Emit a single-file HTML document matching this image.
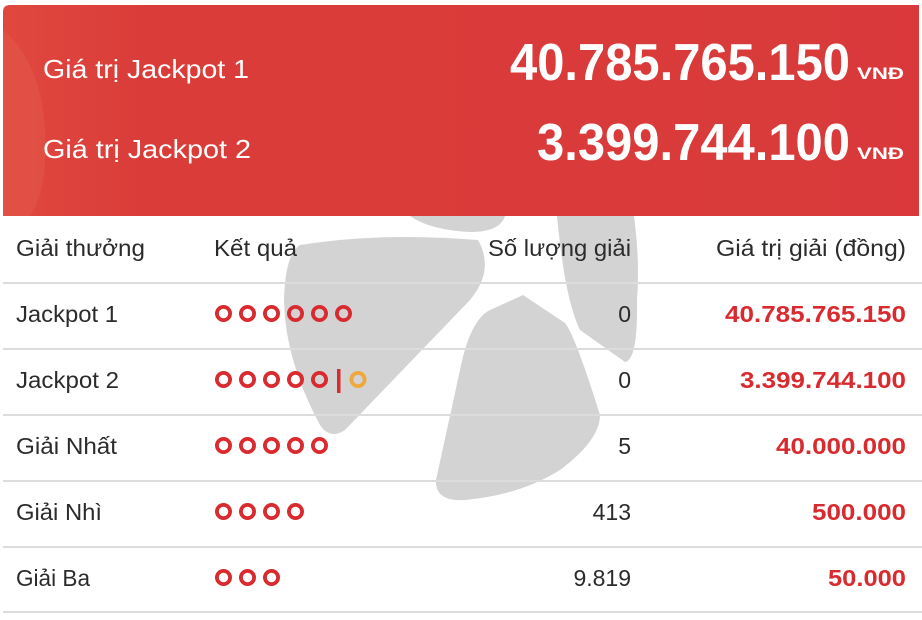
<!DOCTYPE html>
<html><head><meta charset="utf-8"><style>
html,body{margin:0;padding:0;background:#fff;width:922px;height:620px;overflow:hidden}
svg{display:block}
text{font-family:"Liberation Sans",sans-serif}
</style></head><body>
<svg width="922" height="620" viewBox="0 0 922 620">
<defs>
<linearGradient id="g" x1="0" y1="0" x2="1" y2="0">
<stop offset="0" stop-color="#e0483f"/><stop offset="0.15" stop-color="#da3d39"/><stop offset="1" stop-color="#d9393a"/>
</linearGradient>
</defs>
<path d="M3 12 Q3 5 10 5 L919 5 L919 216 L3 216 Z" fill="url(#g)"/>
<path d="M3 30 Q40 60 45 130 Q48 190 30 216 L3 216 Z" fill="#e2564a" opacity="0.6"/>
<g fill="#d3d3d3">
<path d="M300 245 Q380 232 478 240 Q495 270 470 300 L345 430 Q330 440 320 425 Q285 360 284 300 Q285 255 300 245 Z"/>
<path d="M410 216 L505 216 Q500 232 470 232 Q430 230 410 216 Z"/>
<path d="M557 216 L634 216 Q640 260 637 300 Q638 360 625 362 L580 330 Q565 300 557 216 Z"/>
<path d="M523 295 L565 323 Q575 335 600 415 Q600 440 560 470 Q520 495 465 500 Q435 502 436 480 L460 370 Q470 320 490 310 Z"/>
</g>
<g fill="#fff">
<text x="43" y="78" font-size="26" textLength="206" lengthAdjust="spacingAndGlyphs">Giá trị Jackpot 1</text>
<text x="43" y="158" font-size="26" textLength="208" lengthAdjust="spacingAndGlyphs">Giá trị Jackpot 2</text>
<text x="510" y="80" font-size="52" font-weight="bold" textLength="340" lengthAdjust="spacingAndGlyphs">40.785.765.150</text>
<text x="537" y="160" font-size="52" font-weight="bold" textLength="313" lengthAdjust="spacingAndGlyphs">3.399.744.100</text>
<text x="857" y="79" font-size="17" font-weight="bold" textLength="47" lengthAdjust="spacingAndGlyphs">VNĐ</text>
<text x="857" y="159" font-size="17" font-weight="bold" textLength="47" lengthAdjust="spacingAndGlyphs">VNĐ</text>
</g>
<g stroke="#dcdcdc" stroke-width="2">
<line x1="3" y1="283" x2="922" y2="283"/><line x1="3" y1="349" x2="922" y2="349"/>
<line x1="3" y1="415" x2="922" y2="415"/><line x1="3" y1="481" x2="922" y2="481"/>
<line x1="3" y1="547" x2="922" y2="547"/><line x1="3" y1="612" x2="922" y2="612"/>
</g>
<g fill="#2b2b2b" font-size="23">
<text x="16" y="256" textLength="129" lengthAdjust="spacingAndGlyphs">Giải thưởng</text>
<text x="214" y="256" textLength="83" lengthAdjust="spacingAndGlyphs">Kết quả</text>
<text x="488" y="256" textLength="143" lengthAdjust="spacingAndGlyphs">Số lượng giải</text>
<text x="716" y="256" textLength="190" lengthAdjust="spacingAndGlyphs">Giá trị giải (đồng)</text>
<text x="16" y="322" textLength="102" lengthAdjust="spacingAndGlyphs">Jackpot 1</text>
<text x="16" y="388" textLength="103" lengthAdjust="spacingAndGlyphs">Jackpot 2</text>
<text x="16" y="454" textLength="101" lengthAdjust="spacingAndGlyphs">Giải Nhất</text>
<text x="16" y="520" textLength="86" lengthAdjust="spacingAndGlyphs">Giải Nhì</text>
<text x="16" y="586" textLength="74" lengthAdjust="spacingAndGlyphs">Giải Ba</text>
<text x="631" y="322" text-anchor="end">0</text>
<text x="631" y="388" text-anchor="end">0</text>
<text x="631" y="454" text-anchor="end">5</text>
<text x="631" y="520" text-anchor="end">413</text>
<text x="631" y="586" text-anchor="end">9.819</text>
</g>
<g fill="none" stroke="#d92b2f" stroke-width="3.8">
<g transform="translate(0,0)">
<ellipse cx="223.5" cy="313.5" rx="6.6" ry="6.6"/><ellipse cx="247.5" cy="313.5" rx="6.6" ry="6.6"/><ellipse cx="271.5" cy="313.5" rx="6.6" ry="6.6"/><ellipse cx="295.5" cy="313.5" rx="6.6" ry="6.6"/><ellipse cx="319.5" cy="313.5" rx="6.6" ry="6.6"/><ellipse cx="343.5" cy="313.5" rx="6.6" ry="6.6"/>
</g>
<g transform="translate(0,66)">
<ellipse cx="223.5" cy="313.5" rx="6.6" ry="6.6"/><ellipse cx="247.5" cy="313.5" rx="6.6" ry="6.6"/><ellipse cx="271.5" cy="313.5" rx="6.6" ry="6.6"/><ellipse cx="295.5" cy="313.5" rx="6.6" ry="6.6"/><ellipse cx="319.5" cy="313.5" rx="6.6" ry="6.6"/>
</g>
<g transform="translate(0,132)">
<ellipse cx="223.5" cy="313.5" rx="6.6" ry="6.6"/><ellipse cx="247.5" cy="313.5" rx="6.6" ry="6.6"/><ellipse cx="271.5" cy="313.5" rx="6.6" ry="6.6"/><ellipse cx="295.5" cy="313.5" rx="6.6" ry="6.6"/><ellipse cx="319.5" cy="313.5" rx="6.6" ry="6.6"/>
</g>
<g transform="translate(0,198)">
<ellipse cx="223.5" cy="313.5" rx="6.6" ry="6.6"/><ellipse cx="247.5" cy="313.5" rx="6.6" ry="6.6"/><ellipse cx="271.5" cy="313.5" rx="6.6" ry="6.6"/><ellipse cx="295.5" cy="313.5" rx="6.6" ry="6.6"/>
</g>
<g transform="translate(0,264)">
<ellipse cx="223.5" cy="313.5" rx="6.6" ry="6.6"/><ellipse cx="247.5" cy="313.5" rx="6.6" ry="6.6"/><ellipse cx="271.5" cy="313.5" rx="6.6" ry="6.6"/>
</g>
</g>
<rect x="337" y="369" width="3.5" height="24" fill="#d92b2f"/>
<ellipse cx="358" cy="379.5" rx="6.6" ry="6.6" fill="none" stroke="#efa83a" stroke-width="3.8"/>
<g fill="#d92b2f" font-size="23" font-weight="bold">
<text x="725" y="322" textLength="181" lengthAdjust="spacingAndGlyphs">40.785.765.150</text>
<text x="740" y="388" textLength="166" lengthAdjust="spacingAndGlyphs">3.399.744.100</text>
<text x="776" y="454" textLength="130" lengthAdjust="spacingAndGlyphs">40.000.000</text>
<text x="812" y="520" textLength="94" lengthAdjust="spacingAndGlyphs">500.000</text>
<text x="828" y="586" textLength="78" lengthAdjust="spacingAndGlyphs">50.000</text>
</g>
</svg>
</body></html>
